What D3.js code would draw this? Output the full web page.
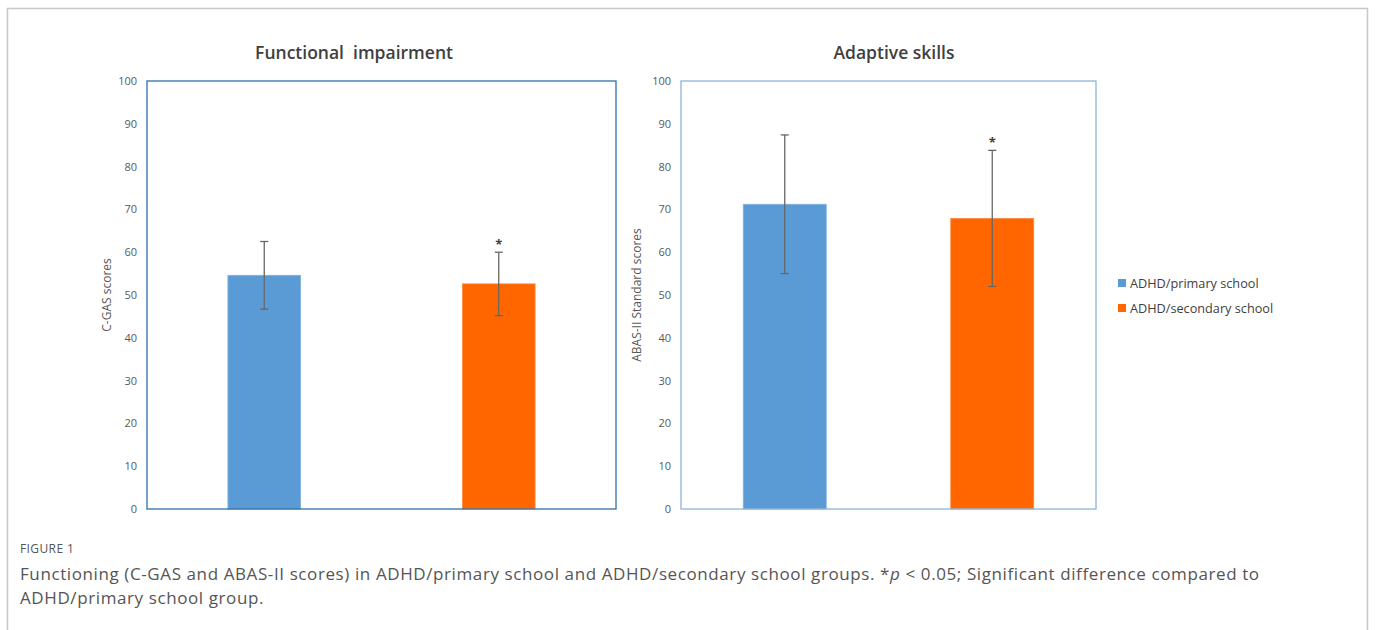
<!DOCTYPE html>
<html>
<head>
<meta charset="utf-8">
<script src="https://cdn.jsdelivr.net/npm/d3@7"></script>
<style>
  body { margin: 0; background: #fff; }
  svg text { font-family: "Open Sans", sans-serif; }
</style>
</head>
<body>
<div id="chart"></div>
<script>
// chart data
var categories = ["ADHD/primary school", "ADHD/secondary school"];
var colors = ["#5b9bd5", "#ff6600"];
var yTicks = [0, 10, 20, 30, 40, 50, 60, 70, 80, 90, 100];

var cgasMeans = [54.6, 52.6];
var cgasSD = [7.9, 7.4];
var cgasStars = [false, true];

var abasMeans = [71.2, 67.9];
var abasSD = [16.2, 15.9];
var abasStars = [false, true];

var W = 1375, H = 630;

var svg = d3.select("#chart")
    .append("svg")
    .attr("width", W)
    .attr("height", H);

// outer frame
svg.append("path")
    .attr("d", "M7.5,640 V8.5 H1367.5 V640")
    .attr("fill", "none")
    .attr("stroke", "#c8c8c8")
    .attr("stroke-width", 1.5);

function drawPanel(opts) {
    var x = d3.scaleBand()
        .domain(categories)
        .range([opts.left, opts.right])
        .paddingInner(opts.pad)
        .paddingOuter(opts.pad / 2);

    var y = d3.scaleLinear()
        .domain([0, 100])
        .range([509, 81]);

    var g = svg.append("g");

    // title
    g.append("text")
        .attr("x", opts.titleCx)
        .attr("y", 59)
        .attr("text-anchor", "middle")
        .attr("font-size", 17.5)
        .attr("font-weight", 600)
        .attr("fill", "#404040")
        .attr("xml:space", "preserve")
        .text(opts.title);

    // y axis
    var axis = d3.axisLeft(y)
        .tickValues(yTicks)
        .tickSize(0)
        .tickPadding(10);
    var ag = g.append("g")
        .attr("transform", `translate(${opts.left},0)`)
        .call(axis);
    ag.select(".domain").remove();
    ag.selectAll("text")
        .attr("font-family", "'Liberation Sans Narrow', 'Open Sans', sans-serif")
        .attr("font-size", 11)
        .attr("fill", "#595959");

    // y axis title
    g.append("text")
        .attr("transform", `translate(${opts.titleX},${y(50)}) rotate(-90)`)
        .attr("text-anchor", "middle")
        .attr("font-size", 12)
        .attr("fill", "#595959")
        .text(opts.yLabel);

    // bars
    g.selectAll("rect.bar")
        .data(opts.means)
        .enter()
        .append("rect")
        .attr("class", "bar")
        .attr("x", (d, i) => x(categories[i]))
        .attr("y", d => y(d))
        .attr("width", x.bandwidth())
        .attr("height", d => y(0) - y(d))
        .attr("fill", (d, i) => colors[i])
        .attr("stroke", (d, i) => i == 0 ? "#7fb2e0" : "#ff8a3d")
        .attr("stroke-width", 0.8);

    // error bars
    opts.means.forEach((m, i) => {
        var cx = x(categories[i]) + x.bandwidth() / 2;
        var top = y(m + opts.sd[i]), bot = y(m - opts.sd[i]);
        var eg = g.append("g")
            .attr("stroke", "#666")
            .attr("stroke-width", 1.3);
        eg.append("line").attr("x1", cx).attr("x2", cx).attr("y1", top).attr("y2", bot);
        eg.append("line").attr("x1", cx - 4).attr("x2", cx + 4).attr("y1", top).attr("y2", top);
        eg.append("line").attr("x1", cx - 4).attr("x2", cx + 4).attr("y1", bot).attr("y2", bot);
        if (opts.stars[i]) {
            g.append("text")
                .attr("x", cx)
                .attr("y", top - 3)
                .attr("text-anchor", "middle")
                .attr("font-size", 13)
                .attr("font-weight", "bold")
                .attr("fill", "#404040")
                .text("*");
        }
    });

    // plot box
    g.append("rect")
        .attr("x", opts.left)
        .attr("y", y(100))
        .attr("width", opts.right - opts.left)
        .attr("height", y(0) - y(100))
        .attr("fill", "none")
        .attr("stroke", opts.boxColor)
        .attr("stroke-width", 1.3);
}

drawPanel({
    left: 147, right: 616, pad: 0.69,
    title: "Functional  impairment", titleCx: 354,
    yLabel: "C-GAS scores", titleX: 111,
    means: cgasMeans, sd: cgasSD, stars: cgasStars,
    boxColor: "#2e6fa8"
});

drawPanel({
    left: 681, right: 1096, pad: 0.6,
    title: "Adaptive skills", titleCx: 894,
    yLabel: "ABAS-II Standard scores", titleX: 641,
    means: abasMeans, sd: abasSD, stars: abasStars,
    boxColor: "#8db4dc"
});

// legend
var legend = svg.append("g")
    .selectAll("g")
    .data(categories)
    .enter()
    .append("g")
    .attr("transform", (d, i) => `translate(1118,${283 + i * 25})`);
legend.append("rect")
    .attr("x", 0).attr("y", -4)
    .attr("width", 8).attr("height", 8)
    .attr("fill", (d, i) => colors[i]);
legend.append("text")
    .attr("x", 12).attr("y", 4.5)
    .attr("font-size", 12.7)
    .attr("fill", "#404040")
    .text(d => d);

// caption
svg.append("text")
    .attr("x", 20).attr("y", 553)
    .attr("font-size", 12)
    .attr("letter-spacing", 0.4)
    .attr("fill", "#555")
    .text("FIGURE 1");

var cap = svg.append("text")
    .attr("font-size", 17)
    .attr("letter-spacing", 0.6)
    .attr("fill", "#555");
var l1 = cap.append("tspan").attr("x", 20).attr("y", 580);
l1.append("tspan").text("Functioning (C-GAS and ABAS-II scores) in ADHD/primary school and ADHD/secondary school groups. *");
l1.append("tspan").attr("font-style", "italic").text("p");
l1.append("tspan").text(" < 0.05; Significant difference compared to");
cap.append("tspan").attr("x", 20).attr("y", 604).text("ADHD/primary school group.");
</script>
</body>
</html>
